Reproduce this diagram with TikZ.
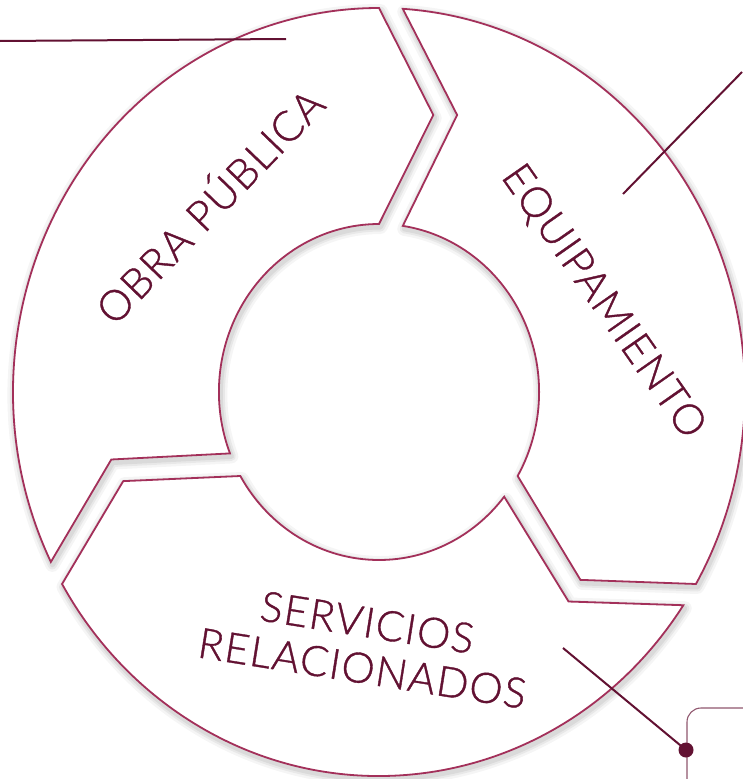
\documentclass[tikz,border=0pt]{standalone}
\usepackage{fontspec}
\newfontfamily\lbl{Lato Light}[LetterSpace=3,FakeBold=0.9]
\usetikzlibrary{calc}
\definecolor{guinda}{HTML}{A3305A}
\definecolor{guindaosc}{HTML}{621132}
\begin{document}
\begin{tikzpicture}[x=1pt,y=-1pt,
  leader/.style={draw=guindaosc, line width=2pt},
  rectline/.style={draw=guindaosc, draw opacity=0.7, line width=1.1pt},
  seglabel/.style={text=guindaosc, font=\lbl\fontsize{42}{46}\selectfont, inner sep=0pt, anchor=base},
  ringseg/.style={insert path={({#1-3.73}:384) arc[start angle={#1-3.73}, end angle={#1-120}, radius=384]
     -- ($({#1-120}:277)+({#1-210}:57)$) -- ({#1-120}:168)
     arc[start angle={#1-120}, end angle={#1-8.56}, radius=168]
     -- ($(#1:277)+({#1-90}:82)$) -- cycle}},
]
\useasboundingbox (0,0) rectangle (742,779);
\fill[white] (0,0) rectangle (742,779);
\begin{scope}[shift={(379,392)}, xscale=0.953, yscale=-1]
  \begin{scope}[shift={(1.5,-3)}]
  \foreach \s in {210,90,-30} {
     \path[draw=black, draw opacity=0.04, line width=14pt, line join=round, ringseg=\s];
     \path[draw=black, draw opacity=0.05, line width=9pt, line join=round, ringseg=\s];
     \path[draw=black, draw opacity=0.06, line width=5pt, line join=round, ringseg=\s];
  }
  \end{scope}
  \foreach \s in {210,90,-30} {
     \path[fill=white, draw=guinda, line width=1.8pt, ringseg=\s];
  }
\end{scope}

\node[seglabel, rotate=46] (obra) at (221,217) {OBRA PÚBLICA};
\node[seglabel, rotate=-55] (equip) at (593,309) {EQUIPAMIENTO};
\node[seglabel, rotate=-9] (serv) at (365,637) {SERVICIOS};
\node[seglabel, rotate=-9] (rel) at (360,683) {RELACIONADOS};

\coordinate (l1a) at (0,41);
\coordinate (l1b) at (286,39);
\draw[leader] (l1a) -- (l1b);
\coordinate (l2a) at (623,194);
\coordinate (l2b) at (742,72);
\draw[leader] (l2a) -- (l2b);
\coordinate (l3a) at (563,648);
\node[circle, fill=guindaosc, inner sep=0pt, minimum size=15pt] (dot) at (686,750) {};
\draw[rectline, rounded corners=14pt] (750,708) -- (687,708) -- (687,790);
\draw[leader] (l3a) -- (dot.center);
\end{tikzpicture}
\end{document}
